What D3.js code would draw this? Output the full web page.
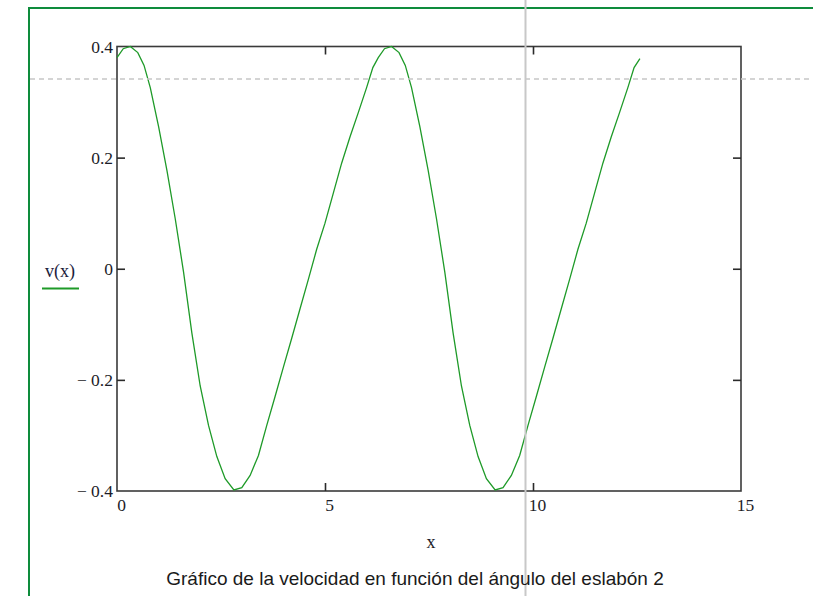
<!DOCTYPE html>
<html>
<head>
<meta charset="utf-8">
<script src="https://cdn.jsdelivr.net/npm/d3@7"></script>
<style>
  html, body { margin: 0; padding: 0; background: #fff; }
  svg { display: block; }
</style>
</head>
<body>
<svg id="chart" width="813" height="596"></svg>
<script>
// Angle of link 2 (rad) and resulting velocity v(x)
const angle = [
  0, 0.15, 0.32, 0.5, 0.65, 0.8, 1.0, 1.2, 1.4, 1.6, 1.8, 2.0, 2.2, 2.4, 2.6, 2.81,
  3.0, 3.2, 3.4, 3.6, 3.8, 4.0, 4.2, 4.4, 4.6, 4.8, 5.0, 5.2, 5.4, 5.6, 5.8, 6.0, 6.15,
  6.28, 6.43, 6.60, 6.78, 6.93, 7.08, 7.28, 7.48, 7.68, 7.88, 8.08, 8.28, 8.48, 8.68, 8.88, 9.09,
  9.28, 9.48, 9.68, 9.88, 10.08, 10.28, 10.48, 10.68, 10.88, 11.08, 11.28, 11.48, 11.68, 11.88, 12.08, 12.28, 12.43,
  12.57
];
const velocity = [
  0.380, 0.396, 0.400, 0.389, 0.366, 0.326, 0.256, 0.177, 0.090, -0.006, -0.116, -0.211, -0.282, -0.338, -0.378, -0.398,
  -0.394, -0.372, -0.336, -0.282, -0.230, -0.177, -0.125, -0.072, -0.019, 0.035, 0.082, 0.136, 0.190, 0.237, 0.281, 0.326, 0.362,
  0.380, 0.396, 0.400, 0.389, 0.366, 0.326, 0.256, 0.177, 0.090, -0.006, -0.116, -0.211, -0.282, -0.338, -0.378, -0.398,
  -0.394, -0.372, -0.336, -0.282, -0.230, -0.177, -0.125, -0.072, -0.019, 0.035, 0.082, 0.136, 0.190, 0.237, 0.281, 0.326, 0.362,
  0.378
];
const xTicks = [0, 5, 10, 15];
const yTicks = [-0.4, -0.2, 0, 0.2, 0.4];

const svg = d3.select("#chart");
const W = 813, H = 596;
const box = { left: 117, top: 46.5, right: 741, bottom: 491 };

const x = d3.scaleLinear().domain([0, 15]).range([box.left, box.right]);
const y = d3.scaleLinear().domain([-0.4, 0.4]).range([box.bottom, box.top]);

const serif = "'Liberation Serif', 'Times New Roman', serif";
const textColor = "#1c1c28";

// Outer green region frame
svg.append("path")
  .attr("d", `M29,${H} L29,8 L${W},8`)
  .attr("fill", "none")
  .attr("stroke", "#0e8c3c")
  .attr("stroke-width", 2);

// Plot box
svg.append("rect")
  .attr("x", box.left).attr("y", box.top)
  .attr("width", box.right - box.left).attr("height", box.bottom - box.top)
  .attr("fill", "none").attr("stroke", "#3a3a3a").attr("stroke-width", 1.6);

const fmtY = d => d === 0 ? "0" : (d < 0 ? "\u2212 " + Math.abs(d).toFixed(1) : d.toFixed(1));

// Axes: ticks point inward on all four sides
const gLeft = svg.append("g").attr("transform", `translate(${box.left},0)`)
  .call(d3.axisLeft(y).tickValues(yTicks).tickSize(-8).tickPadding(4).tickFormat(fmtY));
const gRight = svg.append("g").attr("transform", `translate(${box.right},0)`)
  .call(d3.axisRight(y).tickValues(yTicks).tickSize(-8).tickFormat(""));
const gBottom = svg.append("g").attr("transform", `translate(0,${box.bottom})`)
  .call(d3.axisBottom(x).tickValues(xTicks).tickSize(-8).tickPadding(8).tickFormat(d3.format("d")));
const gTop = svg.append("g").attr("transform", `translate(0,${box.top})`)
  .call(d3.axisTop(x).tickValues(xTicks).tickSize(-8).tickFormat(""));

[gLeft, gRight, gBottom, gTop].forEach(g => {
  g.select(".domain").remove();
  g.selectAll(".tick line").attr("stroke", "#2a2a2a").attr("stroke-width", 1.6);
  g.selectAll(".tick text").attr("fill", textColor)
    .style("font-family", serif).style("font-size", "17.5px");
});
gBottom.selectAll(".tick text").attr("dx", 4);
// Edge ticks coincide with the box sides
gBottom.selectAll(".tick line").filter(d => d === 0 || d === 15).remove();
gTop.selectAll(".tick line").filter(d => d === 0 || d === 15).remove();
gLeft.selectAll(".tick line").filter(d => Math.abs(d) === 0.4).remove();
gRight.selectAll(".tick line").filter(d => Math.abs(d) === 0.4).remove();

// Velocity trace
const line = d3.line().x((d, i) => x(angle[i])).y(d => y(d));
svg.append("path")
  .datum(velocity)
  .attr("d", line)
  .attr("fill", "none")
  .attr("stroke", "#1e9a28")
  .attr("stroke-width", 1.3);

// Cursor cross-hair
svg.append("line")
  .attr("x1", 30).attr("x2", W).attr("y1", 79).attr("y2", 79)
  .attr("stroke", "#c6c6c6").attr("stroke-width", 1.5).attr("stroke-dasharray", "5,4");
svg.append("line")
  .attr("x1", 525.5).attr("x2", 525.5).attr("y1", 0).attr("y2", H)
  .attr("stroke", "#c8c8c8").attr("stroke-width", 2);

// Y label with trace legend underline
svg.append("text")
  .attr("x", 60).attr("y", 277).attr("text-anchor", "middle")
  .attr("fill", "#1c1c3c").style("font-family", serif).style("font-size", "18px")
  .text("v(x)");
svg.append("line")
  .attr("x1", 42).attr("x2", 79).attr("y1", 288.5).attr("y2", 288.5)
  .attr("stroke", "#1e9a28").attr("stroke-width", 2);

// X label
svg.append("text")
  .attr("x", 431).attr("y", 548).attr("text-anchor", "middle")
  .attr("fill", textColor).style("font-family", serif).style("font-size", "18px")
  .text("x");

// Caption
svg.append("text")
  .attr("x", 415).attr("y", 585).attr("text-anchor", "middle")
  .attr("fill", "#1a1a1a").style("font-family", "'Liberation Sans', Arial, sans-serif").style("font-size", "19px")
  .text("Gráfico de la velocidad en función del ángulo del eslabón 2");
</script>
</body>
</html>
